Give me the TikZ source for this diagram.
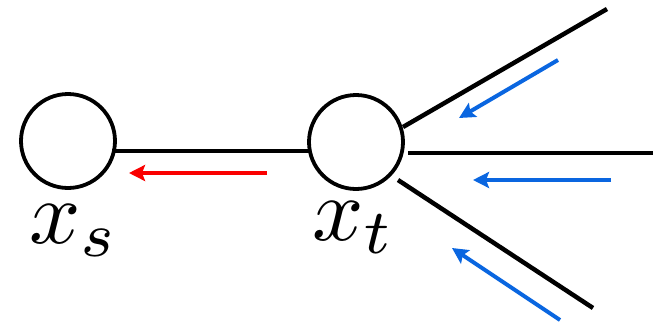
\documentclass[tikz,border=0pt]{standalone}
\usetikzlibrary{arrows.meta}
\definecolor{myblue}{RGB}{10,102,224}
\definecolor{myred}{RGB}{250,0,0}
\begin{document}
\begin{tikzpicture}[x=1pt,y=-1pt,
  vert/.style={circle,draw,line width=3.8pt,minimum size=94pt,inner sep=0pt},
  edge/.style={line width=4.5pt},
  lbl/.style={anchor=base,scale=9,inner sep=0pt},
  redarr/.style={myred,line width=4.5pt,-{Stealth[length=16pt,width=16pt,inset=3pt]}},
  bluearr/.style={myblue,line width=4pt,-{Stealth[length=16pt,width=16pt,inset=3pt]}}]
\useasboundingbox (0,0) rectangle (653,322);
\node[vert] (s) at (68,141) {};
\node[vert] (t) at (356,142) {};
\node[lbl] (ls) at (74,243) {$x_s$};
\node[lbl] (lt) at (354,240) {$x_t$};
% edge endpoints
\coordinate (s1) at (112,151);
\coordinate (t1) at (309,151);
\coordinate (tu) at (403,127);
\coordinate (u) at (607,9);
\coordinate (tm) at (408,153);
\coordinate (m) at (653,153);
\coordinate (tl) at (398,180);
\coordinate (l) at (593,308);
\draw[edge] (s1) -- (t1);
\draw[edge] (tu) -- (u);
\draw[edge] (tm) -- (m);
\draw[edge] (tl) -- (l);
% arrows
\coordinate (r0) at (267,173);
\coordinate (r1) at (129,173);
\draw[redarr] (r0) -- (r1);
\coordinate (bu0) at (558,60);
\coordinate (bu1) at (459,118);
\coordinate (bm0) at (611,180);
\coordinate (bm1) at (473,180);
\coordinate (bl0) at (560,320);
\coordinate (bl1) at (452,248);
\draw[bluearr] (bu0) -- (bu1);
\draw[bluearr] (bm0) -- (bm1);
\draw[bluearr] (bl0) -- (bl1);
\end{tikzpicture}
\end{document}
